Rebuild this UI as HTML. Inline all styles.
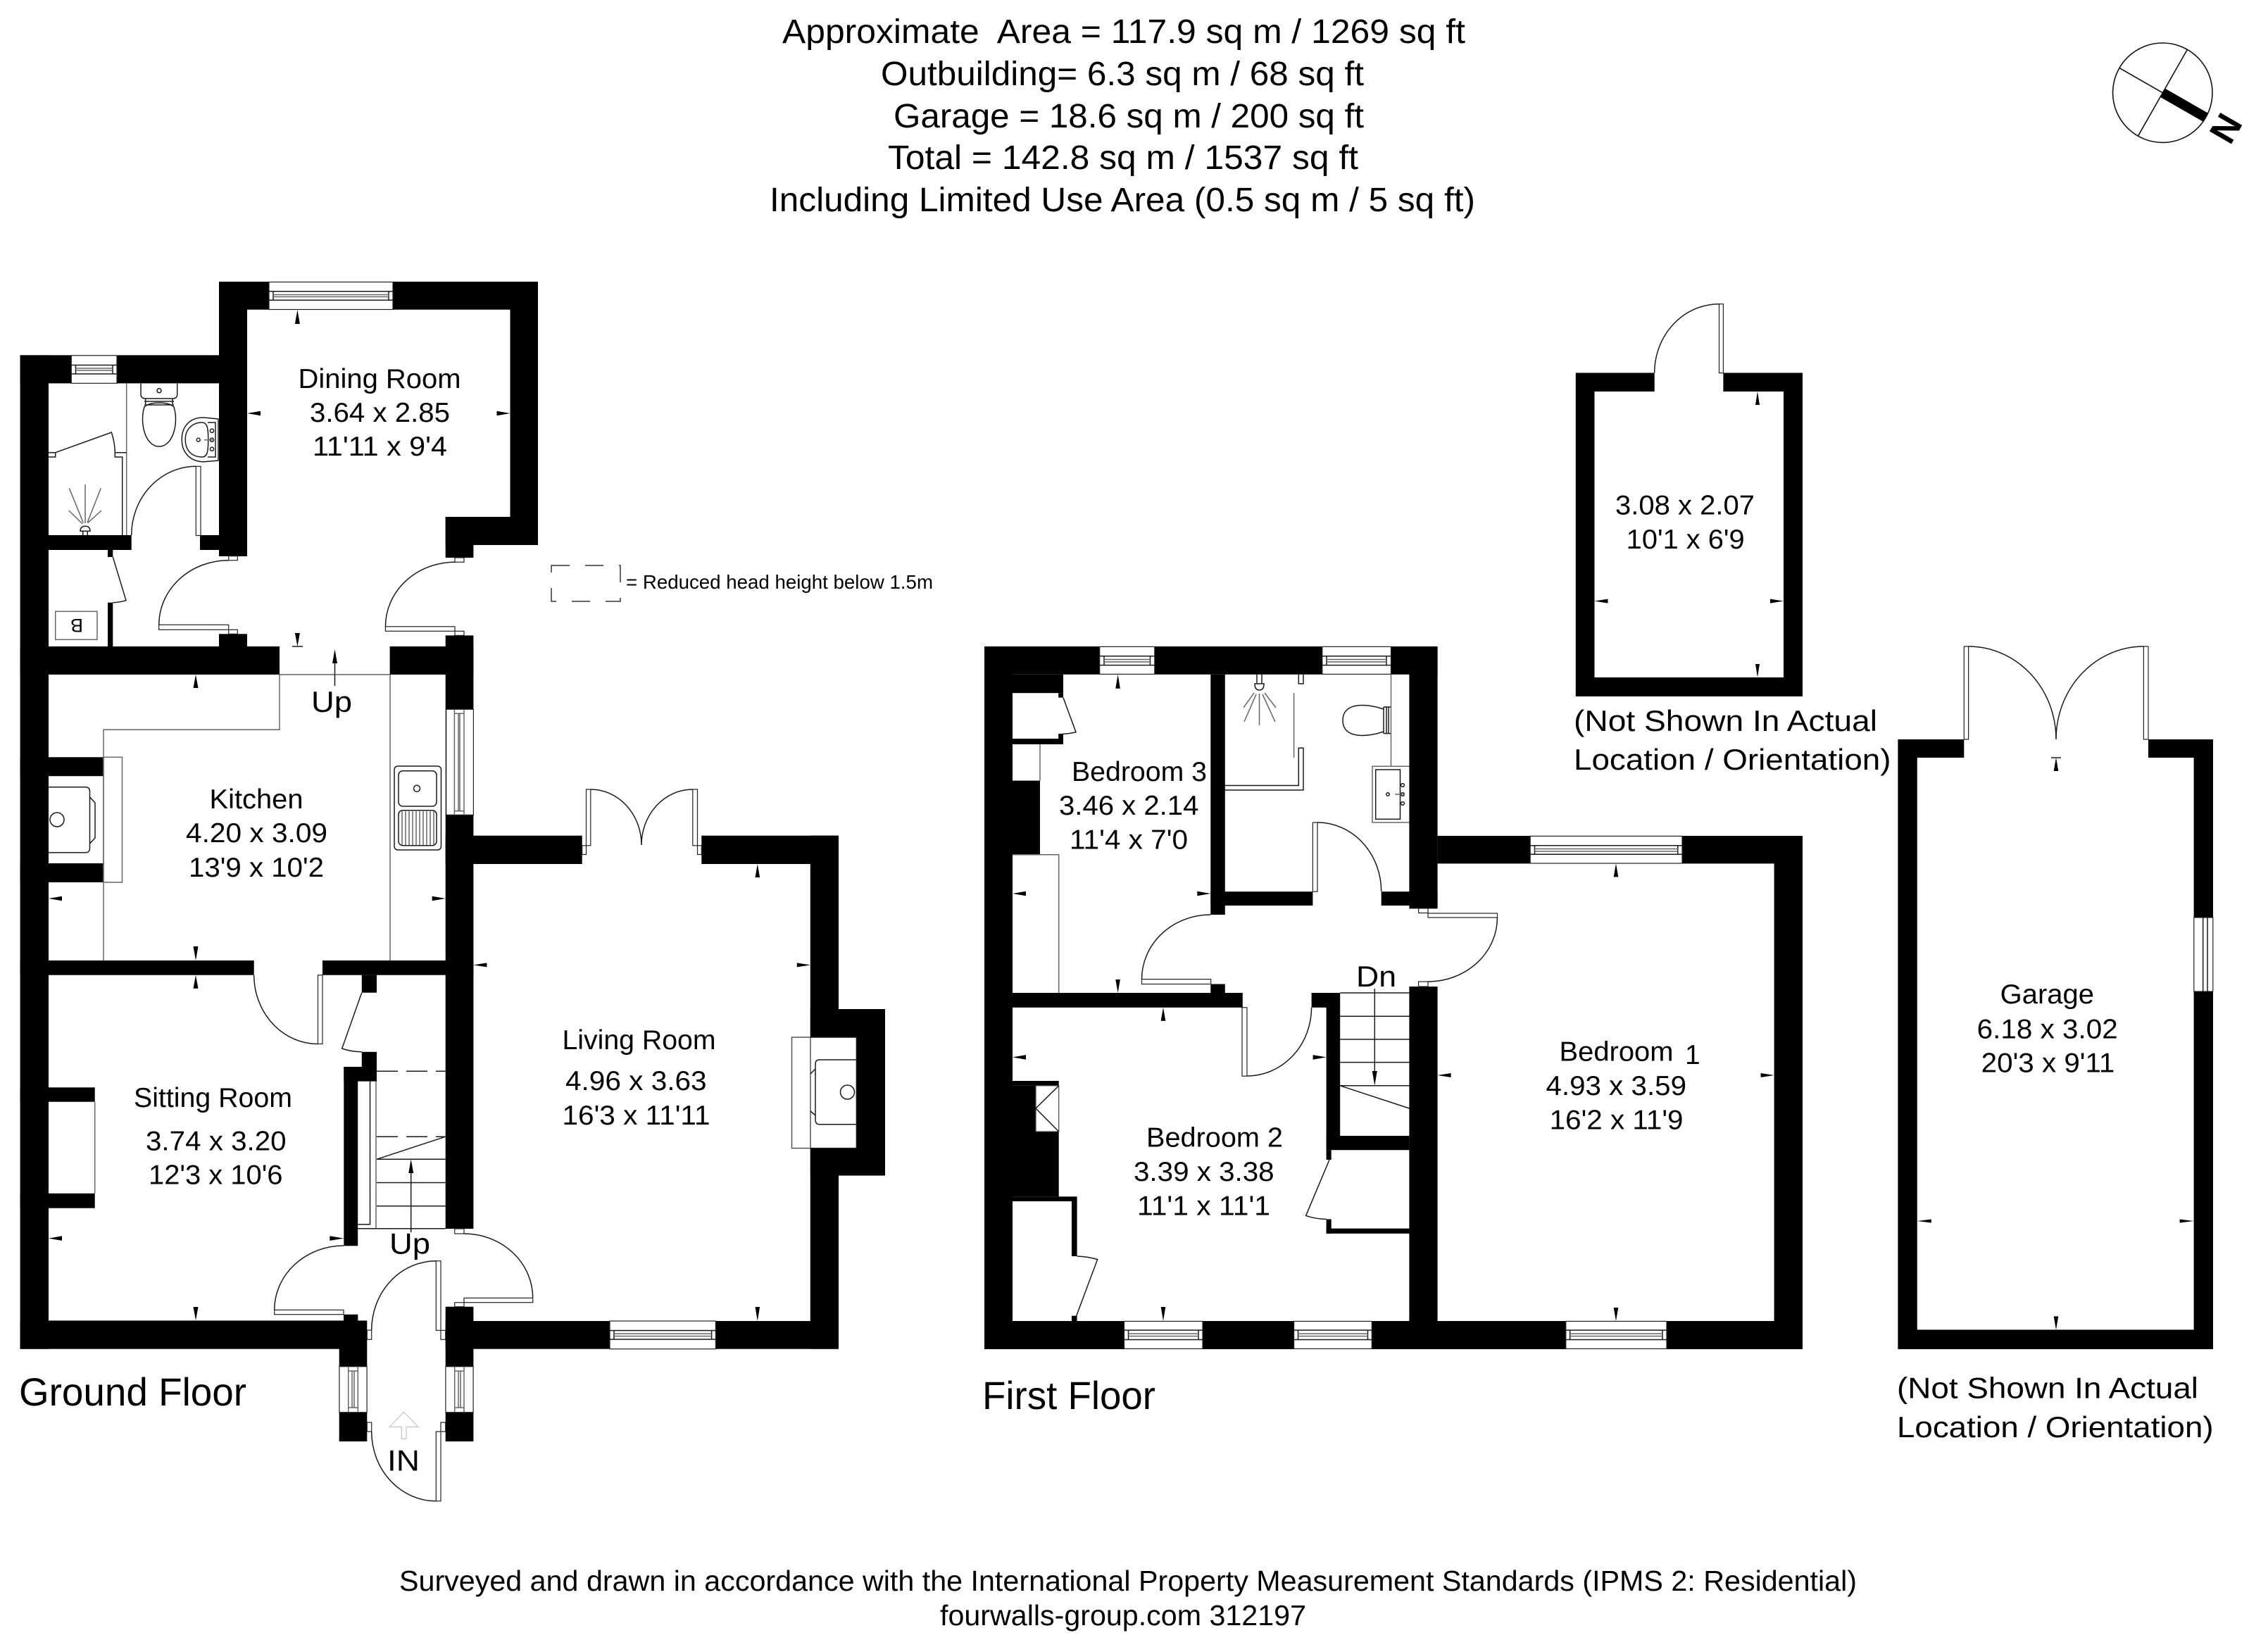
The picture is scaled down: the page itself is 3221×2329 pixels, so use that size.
<!DOCTYPE html>
<html lang="en"><head><meta charset="utf-8"><title>Floor Plan</title>
<style>
html,body{margin:0;padding:0;background:#fff}
svg{display:block}
text{font-family:"Liberation Sans",Arial,sans-serif;fill:#000}
.t{font-size:39px}.h{font-size:48px}.f{font-size:41px}.u{font-size:42px}.g{font-size:56px}
.l{fill:none;stroke:#1a1a1a;stroke-width:1.5}
.y{fill:none;stroke:#666;stroke-width:1.5}
.wh{fill:#fff;stroke:#222;stroke-width:1.2}
.a{fill:#000;stroke:none}
</style></head><body>
<svg xmlns="http://www.w3.org/2000/svg" width="3221" height="2329" viewBox="0 0 3221 2329">
<rect width="3221" height="2329" fill="#fff"/>

<!-- Header -->
<text class="h" x="1111" y="61" textLength="970" lengthAdjust="spacingAndGlyphs" xml:space="preserve">Approximate  Area = 117.9 sq m / 1269 sq ft</text>
<text class="h" x="1251" y="121" textLength="686" lengthAdjust="spacingAndGlyphs">Outbuilding= 6.3 sq m / 68 sq ft</text>
<text class="h" x="1269" y="181" textLength="668" lengthAdjust="spacingAndGlyphs">Garage = 18.6 sq m / 200 sq ft</text>
<text class="h" x="1261" y="240" textLength="668" lengthAdjust="spacingAndGlyphs">Total = 142.8 sq m / 1537 sq ft</text>
<text class="h" x="1093" y="300" textLength="1002" lengthAdjust="spacingAndGlyphs">Including Limited Use Area (0.5 sq m / 5 sq ft)</text>

<!-- Compass -->
<circle cx="3071.3" cy="131.7" r="70.7" fill="#fff" stroke="#111" stroke-width="1.6"/>
<path d="M3010.3 96.7L3071.3 131.7M3106 71L3036.7 192.7" fill="none" stroke="#111" stroke-width="1.6"/>
<path d="M3071.3 131.7L3132.3 166.7" fill="none" stroke="#000" stroke-width="14"/>
<text transform="translate(3167.3 207.4) rotate(-60)" style="font-size:52px;font-weight:bold">N</text>

<!-- ================= GROUND FLOOR WALLS ================= -->
<g fill="#000">
<rect x="311" y="400" width="453" height="39.7"/>
<rect x="311" y="400" width="40" height="390"/>
<rect x="724.5" y="400" width="39.5" height="374"/>
<rect x="632.7" y="734" width="131.3" height="40"/>
<rect x="632.7" y="734" width="39.7" height="58"/>
<rect x="28.6" y="504.4" width="322.4" height="40"/>
<rect x="28.6" y="504.4" width="40.4" height="1411.3"/>
<rect x="69" y="760" width="117.7" height="21"/>
<rect x="284" y="760" width="67" height="21"/>
<rect x="153" y="781" width="7.3" height="10"/>
<rect x="153" y="855.7" width="7.3" height="63"/>
<rect x="311" y="900.3" width="40" height="18"/>
<rect x="632.7" y="902.4" width="39.7" height="16"/>
<rect x="28.6" y="918" width="368.4" height="40"/>
<rect x="553.6" y="918" width="118.8" height="40"/>
<rect x="632.7" y="918" width="39.7" height="827"/>
<rect x="28.6" y="1075.3" width="118.4" height="27"/>
<rect x="28.6" y="1226" width="118.4" height="27"/>
<rect x="28.6" y="1364" width="332.1" height="20.7"/>
<rect x="458" y="1364" width="214.4" height="20.7"/>
<rect x="513.8" y="1384.7" width="21.2" height="25"/>
<rect x="513.8" y="1493.8" width="21.2" height="22"/>
<rect x="488.3" y="1515" width="46.7" height="20.6"/>
<rect x="488.3" y="1515" width="19.9" height="254.3"/>
<rect x="28.6" y="1544.3" width="106.1" height="20.4"/>
<rect x="28.6" y="1694.8" width="106.1" height="20.9"/>
<rect x="28.6" y="1875.4" width="492.7" height="40.3"/>
<rect x="488" y="1866.7" width="20.3" height="10"/>
<rect x="481.7" y="1915" width="39.6" height="132"/>
<rect x="632.7" y="1855.7" width="39.7" height="191.3"/>
<rect x="632.7" y="1186.7" width="194" height="40.3"/>
<rect x="996.3" y="1186.7" width="194.7" height="40.3"/>
<rect x="1150.8" y="1186.7" width="40.2" height="729"/>
<rect x="1150.8" y="1433" width="106.2" height="236.5"/>
<rect x="632.7" y="1876" width="558.3" height="39.7"/>
</g>
<rect x="1151" y="1473" width="65.4" height="157.6" fill="#fff"/>
<rect x="69" y="1102.3" width="78" height="123.7" fill="#fff"/>

<!-- Ground floor windows -->
<g>
<rect class="wh" x="382" y="400.5" width="176" height="39"/>
<path class="l" d="M382 413.7H558M382 426.3H558M388 413.7V426.3M552 413.7V426.3"/><path class="y" d="M388 418.5H552M388 421.5H552"/>
<rect class="wh" x="101.3" y="504.8" width="64.7" height="39.5"/>
<path class="l" d="M101.3 518.5H166M101.3 531H166M107.5 518.5V531M160 518.5V531"/><path class="y" d="M107.5 523H160M107.5 526H160"/>
<rect class="wh" x="633.7" y="1007.3" width="38.7" height="150"/>
<path class="y" d="M645.4 1007.3V1157.3M659 1007.3V1157.3M645.4 1013.3H659M645.4 1151.7H659M651 1013.3V1151.7M653 1013.3V1151.7"/>
<rect class="wh" x="866" y="1876" width="150.4" height="39.7"/>
<path class="l" d="M866 1889.5H1016.4M866 1902H1016.4M872 1889.5V1902M1010.6 1889.5V1902"/><path class="y" d="M872 1894H1010.6M872 1897.5H1010.6"/>
<rect class="wh" x="481.9" y="1940.7" width="39.2" height="65"/>
<path class="y" d="M494.7 1940.7V2005.7M508.3 1940.7V2005.7M494.7 1947H508.3M494.7 1999H508.3M500 1947V1999M503 1947V1999"/>
<rect class="wh" x="632.9" y="1940.7" width="39.2" height="65"/>
<path class="y" d="M645.7 1940.7V2005.7M659 1940.7V2005.7M645.7 1947H659M645.7 1999H659M651 1947V1999M654 1947V1999"/>
</g>

<!-- Ground floor doors -->
<g>
<path class="l" d="M324.7 795.7A99 91.6 0 0 0 225.7 887.3"/>
<rect class="wh" x="225.7" y="887.3" width="99" height="7"/>
<rect class="wh" x="324.7" y="789.7" width="12.6" height="6"/>
<rect class="wh" x="324.7" y="894.3" width="12.6" height="6"/>
<path class="l" d="M646 798.3A98.6 91.5 0 0 0 547.4 889.8"/>
<rect class="wh" x="547.4" y="889.8" width="98.6" height="6.5"/>
<rect class="wh" x="646" y="792" width="13" height="6.3"/>
<rect class="wh" x="646" y="896.3" width="13" height="6.1"/>
<path class="l" d="M278.3 662.3A91.6 97.7 0 0 0 186.7 760"/>
<rect class="wh" x="278.3" y="662.3" width="6.7" height="98.2"/>
<path class="l" d="M160.3 791L179 852.7Q170 855.5 160.3 855.7"/>
<path class="l" d="M360.7 1384.7A90.8 97.8 0 0 0 451.5 1482.5"/>
<rect class="wh" x="451.5" y="1384.7" width="6.5" height="97.8"/>
<path class="l" d="M513.8 1409.6L485.7 1489Q498 1493.5 513.8 1493.8"/>
<path class="l" d="M488.3 1769A98.6 91.3 0 0 0 389.7 1860.3"/>
<rect class="wh" x="389.7" y="1860.3" width="98.3" height="6.4"/>
<path class="l" d="M659 1752A97.7 91.3 0 0 1 756.7 1843.3"/>
<rect class="wh" x="659" y="1843.3" width="97.7" height="6.4"/>
<rect class="wh" x="645.7" y="1745" width="13.3" height="7"/>
<rect class="wh" x="645.7" y="1849.7" width="13.3" height="6"/>
<path class="l" d="M619.3 1790.7A91.6 98.3 0 0 0 527.7 1889"/>
<rect class="wh" x="619.3" y="1790.7" width="6.7" height="98.6"/>
<rect class="wh" x="626" y="1889.3" width="6.7" height="13"/>
<rect class="wh" x="521.3" y="1889" width="6.4" height="13.3"/>
<path class="l" d="M527.7 2033A91.6 98.7 0 0 0 619.3 2131.7"/>
<rect class="wh" x="619.3" y="2033" width="6.7" height="98.7"/>
<rect class="wh" x="626" y="2020" width="6.7" height="13"/>
<rect class="wh" x="521.3" y="2020" width="6.4" height="13"/>
<path class="l" d="M838.8 1121A72.2 79 0 0 1 911 1200M983.8 1121A72.8 79 0 0 0 911 1200"/>
<rect class="wh" x="832.5" y="1121" width="6.3" height="79.8"/>
<rect class="wh" x="983.8" y="1121" width="6.7" height="79.8"/>
<rect class="wh" x="826.7" y="1200.8" width="5.8" height="12.7"/>
<rect class="wh" x="990.5" y="1200.8" width="5.8" height="12.7"/>
</g>

<!-- WC fixtures -->
<g>
<path class="y" d="M179.7 544.6V760"/>
<path class="l" d="M163.3 642.7H179.7M163.3 642.7V649H173.7V760"/>
<path class="l" d="M78.7 642.7L158.3 614Q163 628 163.3 642.7M69 642.7H78.7V649H69"/>
<path class="y" d="M121 688V743M98.3 693.3L118.3 742.3M143.3 693.3L124 742.3M97.7 725L117.3 744M144 725L125 742.3"/>
<path class="l" d="M114 754.3Q114 747.3 121 747.3Q128 747.3 128 754.3ZM117.7 754.3V760M124.3 754.3V760"/>
<path class="l" d="M200 544.6V560Q200 566 206.7 566H245Q251.7 566 251.7 560V544.6"/>
<path class="l" d="M206.7 566V574M245 566V574M205 570H247M205 575H247"/>
<path class="l" d="M205 578C198 600 206 634 226 634C246 634 254 600 247 578C240 570 212 570 205 578Z"/>
<circle class="l" cx="226" cy="554.7" r="3"/>
<path class="l" d="M310 595L290 593C268 592 258 608 258.3 624C258 640 268 656 290 655.7L310 654V595Z"/>
<path class="l" d="M287 600C273 600 263 610 263.3 624C263 640 273 649 287 649C295 649 295.7 640 295.7 624C295.7 610 295 600 287 600ZM295 600H306V649H295"/>
<circle class="l" cx="301" cy="611.7" r="2.6"/><circle class="l" cx="301" cy="624.7" r="2.6"/><circle class="l" cx="301" cy="637.7" r="2.6"/><circle class="l" cx="281.7" cy="624.7" r="2.4"/>
<path class="y" d="M290 624.7H304" stroke-width="3"/>
<rect x="78.7" y="868.3" width="59.3" height="40" fill="none" stroke="#666" stroke-width="1.5"/>
<text transform="translate(118 879) rotate(180)" style="font-size:27px">B</text>
</g>

<!-- Kitchen fixtures -->
<g>
<path class="y" d="M397 958V1036.3H147V1364M397 958H553.6M554 958V1364"/>
<rect x="147" y="1075.3" width="26.5" height="177.7" fill="none" stroke="#666" stroke-width="1.5"/>
<path class="l" d="M69 1117.7H122Q127.5 1118 127.5 1124V1204Q127.5 1210.7 122 1210.7H69M127.5 1132L135 1140V1190L127.5 1198"/>
<circle class="l" cx="81" cy="1164" r="10"/>
<rect class="l" x="560" y="1088" width="66.5" height="119" rx="5"/>
<rect class="l" x="566" y="1094.7" width="54" height="50.3" rx="6"/>
<rect class="l" x="566" y="1150.7" width="54" height="50" rx="6"/>
<circle class="l" cx="592" cy="1119.7" r="4.5"/>
<path class="y" d="M571 1152V1200M576 1152V1200M581 1152V1200M586 1152V1200M591 1152V1200M596 1152V1200M601 1152V1200M606 1152V1200M611 1152V1200M616 1152V1200"/>
<path class="l" d="M475.5 974V935"/><path class="a" d="M475.5 922L479 942H472Z"/>
<path class="y" d="M134.7 1564.7V1694.8"/>
</g>

<!-- Stair ground -->
<g>
<path class="l" d="M535 1521.3H632.7M535 1614.2H632.7" stroke-dasharray="30 12"/>
<path class="l" d="M535 1646.3L632.7 1614.2M535 1646.3H632.7M535 1679.5H632.7M535 1712.7H632.7M508.2 1744.8H632.7"/>
<path class="y" d="M534 1535.6V1744.8"/>
<path class="l" d="M525.5 1535.6V1738.7H508.2"/>
<path class="l" d="M583.7 1750V1660"/><path class="a" d="M583.7 1646.3L587.2 1666H580.2Z"/>
</g>

<!-- Living fireplace -->
<rect x="1124.5" y="1473" width="26.5" height="157.6" fill="none" stroke="#555" stroke-width="1.5"/>
<path class="l" d="M1216.4 1505H1164Q1158 1505 1158 1511V1590Q1158 1596.8 1164 1596.8H1216.4M1158 1518L1151 1525M1158 1584L1151 1578"/>
<circle class="l" cx="1203.5" cy="1551" r="10"/>
<path class="l" d="M1151 1473H1216.4V1630.6H1151"/>

<!-- IN arrow -->
<path d="M573.3 2005.3L594 2026.3H577V2043.3H570.3V2026.3H553.3Z" fill="#fff" stroke="#c8c8c8" stroke-width="1.3"/>

<!-- Dashed key -->
<rect x="783" y="803" width="98" height="51" fill="none" stroke="#333" stroke-width="1.5" stroke-dasharray="26 22"/>
<text x="889" y="836" style="font-size:28px" textLength="436" lengthAdjust="spacingAndGlyphs">= Reduced head height below 1.5m</text>

<!-- ================= FIRST FLOOR WALLS ================= -->
<g fill="#000">
<rect x="1398" y="918" width="643.6" height="39.8"/>
<rect x="1398" y="918" width="40" height="998"/>
<rect x="1398" y="957.8" width="112" height="26.4"/>
<rect x="1503.2" y="984.2" width="6.8" height="6.5"/>
<rect x="1503.2" y="1042.7" width="6.8" height="14.3"/>
<rect x="1398" y="1049" width="112" height="8"/>
<rect x="1398" y="1108.6" width="79" height="105.2"/>
<rect x="1719.3" y="957.8" width="20.5" height="341.2"/>
<rect x="1719.3" y="1266.2" width="145.1" height="19.8"/>
<rect x="1961.7" y="1266.2" width="79.9" height="19.8"/>
<rect x="2001.4" y="918" width="40.2" height="372.4"/>
<rect x="1719.3" y="1397.5" width="20.5" height="13"/>
<rect x="1398" y="1410" width="366.8" height="20.8"/>
<rect x="1862.6" y="1410" width="40.6" height="20.8"/>
<rect x="1883.6" y="1430" width="19.6" height="203"/>
<rect x="1883.6" y="1613" width="117.8" height="20.2"/>
<rect x="1883.6" y="1633.2" width="7.1" height="13.8"/>
<rect x="1883.6" y="1731.4" width="7.1" height="20.4"/>
<rect x="1883.6" y="1744.6" width="118" height="7.2"/>
<rect x="2001.4" y="1401" width="40.2" height="515"/>
<rect x="1398" y="1535" width="105.7" height="6.8"/>
<rect x="1398" y="1541.8" width="73" height="65.2"/>
<rect x="1398" y="1607" width="105.7" height="92.3"/>
<rect x="1398" y="1699.3" width="131.6" height="6.7"/>
<rect x="1522" y="1706" width="7.6" height="78"/>
<rect x="1522" y="1868.6" width="7.6" height="7.4"/>
<rect x="1398" y="1876" width="1162" height="40"/>
<rect x="2041.6" y="1187" width="518.4" height="39.4"/>
<rect x="2519.6" y="1187" width="40.4" height="729"/>
</g>

<!-- First floor windows -->
<g>
<rect class="wh" x="1561.7" y="918.4" width="78.1" height="39"/>
<path class="l" d="M1561.7 931.8H1639.8M1561.7 944.6H1639.8M1568 931.8V944.6M1633.5 931.8V944.6"/><path class="y" d="M1568 936.5H1633.5M1568 940H1633.5"/>
<rect class="wh" x="1877.8" y="918.4" width="97.7" height="39"/>
<path class="l" d="M1877.8 931.8H1975.5M1877.8 944.6H1975.5M1884 931.8V944.6M1969 931.8V944.6"/><path class="y" d="M1884 936.5H1969M1884 940H1969"/>
<rect class="wh" x="2173.2" y="1187.4" width="215.8" height="38.6"/>
<path class="l" d="M2173.2 1200.7H2389M2173.2 1213.3H2389M2179.5 1200.7V1213.3M2382.8 1200.7V1213.3"/><path class="y" d="M2179.5 1205.5H2382.8M2179.5 1209H2382.8"/>
<rect class="wh" x="2223.8" y="1876.4" width="143.2" height="39"/>
<path class="l" d="M2223.8 1889H2367M2223.8 1902.5H2367M2229.6 1889V1902.5M2361 1889V1902.5"/><path class="y" d="M2229.6 1894H2361M2229.6 1897.5H2361"/>
<rect class="wh" x="1596.5" y="1876.4" width="111.5" height="39"/>
<path class="l" d="M1596.5 1889H1708M1596.5 1902.5H1708M1602.5 1889V1902.5M1702 1889V1902.5"/><path class="y" d="M1602.5 1894H1702M1602.5 1897.5H1702"/>
<rect class="wh" x="1837.6" y="1876.4" width="110.7" height="39"/>
<path class="l" d="M1837.6 1889H1948.3M1837.6 1902.5H1948.3M1843.5 1889V1902.5M1942.5 1889V1902.5"/><path class="y" d="M1843.5 1894H1942.5M1843.5 1897.5H1942.5"/>
</g>

<!-- First floor fixtures -->
<g>
<path class="y" d="M1477 1057V1108.6M1438 1213.8H1503.7V1410"/>
<path class="l" d="M1510 990.7L1528 1039.7Q1516 1042.5 1503.2 1042.7"/>
<!-- shower -->
<path class="l" d="M1739.8 1115.5H1844.3V1062.3H1851V1122H1739.8M1844.3 957.8V971H1851V957.8"/>
<path class="y" d="M1837.6 984V1076"/>
<path class="y" d="M1788.5 985V1030M1784 986L1767 1025M1793 986L1811 1025M1781 984L1766 1005M1796 984L1812 1005"/>
<path class="l" d="M1782 971Q1782 980 1788.5 980Q1795 980 1795 971ZM1785 957.8V971M1792 957.8V971"/>
<!-- toilet -->
<path class="y" d="M1975.5 957.8V1088.3"/>
<path class="l" d="M1965 1004H1975M1965 1041.6H1975M1965 1004V1041.6M1969 1004V1041.6M1972 1004V1041.6"/>
<path class="l" d="M1965 1007C1945 1000 1907 995 1907 1023C1907 1051 1945 1046 1965 1039"/>
<!-- basin -->
<path class="y" d="M2001.4 1088.3H1949V1168H2001.4"/>
<rect class="l" x="1953.7" y="1093" width="34.8" height="70.3"/>
<circle class="l" cx="1992" cy="1115" r="2.4"/><circle class="l" cx="1992" cy="1128" r="2.4"/><circle class="l" cx="1992" cy="1141" r="2.4"/><circle class="l" cx="1971" cy="1128" r="2.2"/>
<path class="y" d="M1981 1128H1995" stroke-width="3"/>
<!-- doors -->
<path class="l" d="M1871 1168A90.7 98 0 0 1 1961.7 1266"/>
<rect class="wh" x="1864.4" y="1168" width="6.6" height="98.2"/>
<path class="l" d="M1719.3 1299A97.8 91.6 0 0 0 1621.5 1390.6"/>
<rect class="wh" x="1621.5" y="1390.6" width="98.2" height="6.9"/>
<path class="l" d="M1771 1528A91.6 97.2 0 0 0 1862.6 1430.8"/>
<rect class="wh" x="1764" y="1430.8" width="7" height="97.4"/>
<path class="l" d="M2126.5 1303A98.5 91 0 0 1 2028 1394"/>
<rect class="wh" x="2028" y="1297" width="98.5" height="6"/>
<rect class="wh" x="2014.6" y="1290" width="13.4" height="6.5"/>
<rect class="wh" x="2014.6" y="1394" width="13.4" height="7"/>
<!-- stair -->
<path class="l" d="M1903.2 1410H2001.4M1903.2 1443.2H2001.4M1903.2 1476H2001.4M1903.2 1508.6H2001.4M1903.2 1541.8H2001.4M1903.2 1541.8L2001.4 1574"/>
<path class="l" d="M1952.3 1404V1525"/><path class="a" d="M1952.3 1541.8L1948.8 1521H1955.8Z"/>
<!-- cupboards -->
<path class="l" d="M1888 1647L1854.6 1726.4Q1868 1731 1883.6 1731.4"/>
<path class="l" d="M1529.6 1784Q1545 1784.5 1558.6 1788.6L1528.7 1868.6"/>
<rect x="1471" y="1541.8" width="32.7" height="65.2" fill="#fff" stroke="#444" stroke-width="1.2"/>
<path class="l" d="M1503.7 1541.8L1471 1574L1503.7 1607"/>
</g>

<!-- Outbuilding -->
<g fill="#000">
<path d="M2237.8 529.5H2349.7V556H2264.5V962H2533V556H2447.4V529.5H2560V989H2237.8Z"/>
</g>
<path class="l" d="M2441.5 431.7A91.8 97.8 0 0 0 2349.7 529.5"/>
<rect class="wh" x="2441.5" y="431.7" width="5.9" height="98"/>

<!-- Garage -->
<g fill="#000">
<path d="M2695.4 1050H2789.3V1076H2722.8V1888.4H3115.6V1076H3051V1050H3143V1916H2695.4Z"/>
</g>
<rect class="wh" x="3115.8" y="1303" width="27" height="105"/>
<path class="l" d="M3128.7 1303V1408M3135 1303V1408"/>
<path class="l" d="M2795.6 918A124.4 132 0 0 1 2920 1050M3044.4 918A124.4 132 0 0 0 2920 1050"/>
<rect class="wh" x="2789.3" y="918" width="6.3" height="132"/>
<rect class="wh" x="3044.4" y="918" width="6.6" height="132"/>

<!-- Dimension arrows -->
<g class="a">
<path d="M422.4 440l-3.5 20h7zM422.4 918l-3.5-19h7zM351 587l19-3.3v6.6zM724.5 587l-19-3.3v6.6z"/>
<path d="M278 958l-3.5 19h7zM278 1364l-3.5-20h7zM69 1276l19-3.3v6.6zM632.7 1276l-19-3.3v6.6z"/>
<path d="M278 1384.7l-3.5 19h7zM278 1875l-3.5-19h7zM69 1758.6l19-3.3v6.6zM488.3 1758.6l-20-3.3v6.6z"/>
<path d="M672.4 1370.4l19-3v6zM1150.8 1370.4l-19-3v6zM1075.8 1227l-3.3 19h6.6zM1075.8 1876l-3.3-20h6.6z"/>
<path d="M1587.6 957.8l-3.3 20h6.6zM1587.6 1410l-3.3-19h6.6zM1438 1269l19-3.3v6.6zM1719.3 1269l-19-3.3v6.6z"/>
<path d="M1652 1430.8l-3.3 19h6.6zM1652 1876l-3.3-20h6.6zM1438 1501.4l19-3.3v6.6zM1883.6 1501.4l-19-3.3v6.6z"/>
<path d="M2295 1226.4l-3.3 19h6.6zM2295 1876l-3.3-19h6.6zM2041.6 1527l19-3v6zM2519.6 1527l-19-3v6z"/>
<path d="M2496 556l-3 19h6zM2496 962l-3-19h6zM2264.5 853.6l19-3v6zM2533 853.6l-19-3v6z"/>
<path d="M2920 1076l-3.3 19h6.6zM2920 1888.4l-3.3-19h6.6zM2722.8 1734l20-2.5v5zM3115.6 1734l-20-2.5v5z"/>
</g>
<path class="l" d="M415 918H430M2913 1076H2927"/>

<!-- Labels -->
<text class="t" x="423.5" y="551" textLength="231" lengthAdjust="spacingAndGlyphs">Dining Room</text>
<text class="t" x="440" y="599" textLength="199" lengthAdjust="spacingAndGlyphs">3.64 x 2.85</text>
<text class="t" x="444" y="647" textLength="191" lengthAdjust="spacingAndGlyphs">11'11 x 9'4</text>
<text class="u" x="442" y="1011" textLength="58" lengthAdjust="spacingAndGlyphs">Up</text>
<text class="t" x="297.5" y="1148" textLength="133" lengthAdjust="spacingAndGlyphs">Kitchen</text>
<text class="t" x="264" y="1196" textLength="201" lengthAdjust="spacingAndGlyphs">4.20 x 3.09</text>
<text class="t" x="268" y="1245" textLength="192" lengthAdjust="spacingAndGlyphs">13'9 x 10'2</text>
<text class="t" x="190" y="1572" textLength="225" lengthAdjust="spacingAndGlyphs">Sitting Room</text>
<text class="t" x="207" y="1633.6" textLength="199.6" lengthAdjust="spacingAndGlyphs">3.74 x 3.20</text>
<text class="t" x="211" y="1681.5" textLength="190.5" lengthAdjust="spacingAndGlyphs">12'3 x 10'6</text>
<text class="t" x="798.5" y="1490" textLength="218" lengthAdjust="spacingAndGlyphs">Living Room</text>
<text class="t" x="803" y="1548" textLength="200.6" lengthAdjust="spacingAndGlyphs">4.96 x 3.63</text>
<text class="t" x="798.5" y="1597" textLength="210" lengthAdjust="spacingAndGlyphs">16'3 x 11'11</text>
<text class="u" x="553" y="1780.5" textLength="58" lengthAdjust="spacingAndGlyphs">Up</text>
<text class="u" x="550" y="2088.3" textLength="46" lengthAdjust="spacingAndGlyphs">IN</text>
<text class="g" x="27" y="1996" textLength="323" lengthAdjust="spacingAndGlyphs">Ground Floor</text>
<text class="g" x="1395" y="2001" textLength="246" lengthAdjust="spacingAndGlyphs">First Floor</text>
<text class="t" x="1522" y="1109" textLength="192" lengthAdjust="spacingAndGlyphs">Bedroom 3</text>
<text class="t" x="1504" y="1157" textLength="198.4" lengthAdjust="spacingAndGlyphs">3.46 x 2.14</text>
<text class="t" x="1519" y="1205.4" textLength="168" lengthAdjust="spacingAndGlyphs">11'4 x 7'0</text>
<text class="u" x="1926" y="1401" textLength="57" lengthAdjust="spacingAndGlyphs">Dn</text>
<text class="t" x="1628" y="1628.6" textLength="194" lengthAdjust="spacingAndGlyphs">Bedroom 2</text>
<text class="t" x="1610" y="1676.8" textLength="199.6" lengthAdjust="spacingAndGlyphs">3.39 x 3.38</text>
<text class="t" x="1615" y="1725.7" textLength="189" lengthAdjust="spacingAndGlyphs">11'1 x 11'1</text>
<text class="t" x="2214.5" y="1506.7" textLength="162" lengthAdjust="spacingAndGlyphs">Bedroom</text>
<text class="t" x="2393" y="1511">1</text>
<text class="t" x="2195.5" y="1554.8" textLength="199.5" lengthAdjust="spacingAndGlyphs">4.93 x 3.59</text>
<text class="t" x="2200.7" y="1603.4" textLength="189.8" lengthAdjust="spacingAndGlyphs">16'2 x 11'9</text>
<text class="t" x="2294" y="730.6" textLength="198" lengthAdjust="spacingAndGlyphs">3.08 x 2.07</text>
<text class="t" x="2309.7" y="778.8" textLength="168" lengthAdjust="spacingAndGlyphs">10'1 x 6'9</text>
<text class="u" x="2235" y="1038" textLength="431" lengthAdjust="spacingAndGlyphs">(Not Shown In Actual</text>
<text class="u" x="2235" y="1093" textLength="450.5" lengthAdjust="spacingAndGlyphs">Location / Orientation)</text>
<text class="t" x="2840.6" y="1424.8" textLength="133.4" lengthAdjust="spacingAndGlyphs">Garage</text>
<text class="t" x="2807.7" y="1474.5" textLength="200" lengthAdjust="spacingAndGlyphs">6.18 x 3.02</text>
<text class="t" x="2813.7" y="1522.7" textLength="189.7" lengthAdjust="spacingAndGlyphs">20'3 x 9'11</text>
<text class="u" x="2694" y="1985.6" textLength="428" lengthAdjust="spacingAndGlyphs">(Not Shown In Actual</text>
<text class="u" x="2694" y="2041" textLength="449.6" lengthAdjust="spacingAndGlyphs">Location / Orientation)</text>

<!-- Footer -->
<text class="f" x="567" y="2259" textLength="2070" lengthAdjust="spacingAndGlyphs">Surveyed and drawn in accordance with the International Property Measurement Standards (IPMS 2: Residential)</text>
<text class="f" x="1335" y="2308" textLength="520" lengthAdjust="spacingAndGlyphs">fourwalls-group.com 312197</text>
</svg>
</body></html>
